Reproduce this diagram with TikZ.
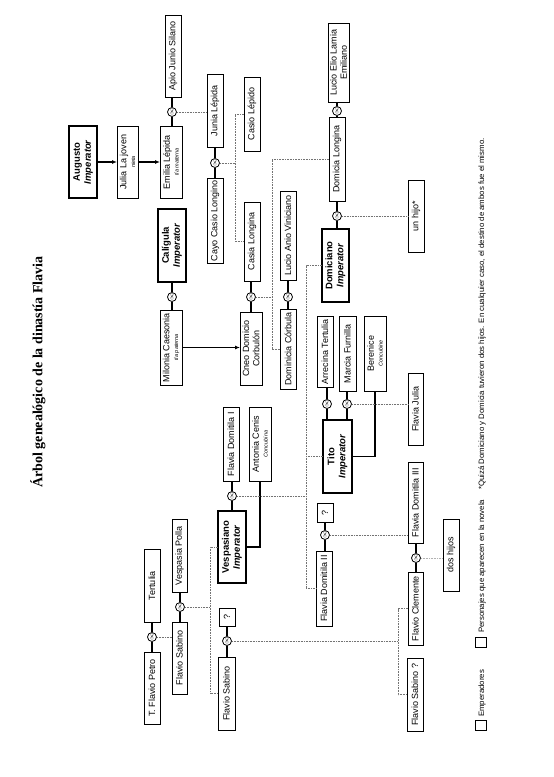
\documentclass[tikz,border=0pt]{standalone}
\usepackage{fontspec}
\setmainfont{Liberation Sans}
\newfontfamily\titlefont{Liberation Serif}
\usetikzlibrary{arrows.meta}
\newcommand\subtxt[1]{\\[-1.5pt]{\fontsize{5.5}{6}\selectfont\itshape\mdseries #1}}
\tikzset{
 box/.style={draw, rotate=90, inner sep=0.5pt, outer sep=0pt, align=center, font=\fontsize{9}{10.3}\selectfont, line width=1pt},
 emp/.style={box, line width=1.8pt, font=\fontsize{9.5}{11}\selectfont\bfseries},
 mar/.style={circle, draw, fill=white, inner sep=0pt, minimum size=9pt, line width=0.8pt, rotate=90, font=\fontsize{6}{6}\selectfont},
 rel/.style={line width=1.1pt},
 dotl/.style={black!55, line width=0.8pt, dash pattern=on 0.8pt off 0.8pt},
 arr/.style={line width=1.1pt, -{Latex[length=5pt,width=4pt]}},
 small/.style={rotate=90, inner sep=0pt, font=\fontsize{7.8}{9}\selectfont},
 legbox/.style={draw, line width=1pt, minimum width=11, minimum height=10, inner sep=0pt},
}
\begin{document}
\begin{tikzpicture}[x=1pt,y=-1pt]
\fill[white] (0,0) rectangle (554,777);
\useasboundingbox (0,0) rectangle (554,777);

% title
\node[rotate=90, font=\titlefont\bfseries\fontsize{14}{16}\selectfont] (title) at (38,372) {Árbol genealógico de la dinastía Flavia};

% boxes
\node[emp, minimum width=72, minimum height=28] (augusto) at (83,162) {Augusto\\\textit{Imperator}};
\node[box, minimum width=72, minimum height=21] (julia) at (127.5,162) {Julia La joven\subtxt{nieta}};
\node[box, minimum width=72, minimum height=22] (emilia) at (171,162) {Emilia Lépida\subtxt{tía materna}};
\node[box, minimum width=82, minimum height=16] (apio) at (173,56) {Apio Junio Silano};
\node[box, minimum width=73, minimum height=16] (junia) at (215,110.5) {Junia Lépida};
\node[box, minimum width=74, minimum height=16] (casiolep) at (252,114) {Casio Lépido};
\node[box, minimum width=85, minimum height=16] (cayo) at (215,220.5) {Cayo Casio Longino};
\node[emp, minimum width=73, minimum height=28] (caligula) at (172,245.5) {Calígula\\\textit{Imperator}};
\node[box, minimum width=79, minimum height=16] (casia) at (252,241.5) {Casia Longina};
\node[box, minimum width=89, minimum height=16] (lucioanio) at (288,235.5) {Lucio Anio Viniciano};
\node[box, minimum width=75, minimum height=22] (milonia) at (171,347.5) {Milonia Caesonia\subtxt{tía paterna}};
\node[box, minimum width=73, minimum height=22] (cneo) at (251,348.5) {Cneo Domicio\\Corbulón};
\node[box, minimum width=80, minimum height=16] (dcorbula) at (288,349) {Dominicia Córbula};
\node[emp, minimum width=73, minimum height=27] (domiciano) at (335.5,265.5) {Domiciano\\\textit{Imperator}};
\node[box, minimum width=84, minimum height=16] (dlongina) at (337,159) {Domicia Longina};
\node[box, minimum width=79, minimum height=21] (lucioelio) at (338.5,62.5) {Lucio Elio Lamia\\Emiliano};
\node[box, minimum width=72, minimum height=16] (unhijo) at (416,216) {un hijo*};
\node[emp, minimum width=73, minimum height=29] (tito) at (337.5,456.5) {Tito\\\textit{Imperator}};
\node[box, minimum width=71, minimum height=16] (arrecina) at (325,351.5) {Arrecina Tertulia};
\node[box, minimum width=75, minimum height=17] (marcia) at (347.5,353.5) {Marcia Furnilla};
\node[box, minimum width=75, minimum height=22] (berenice) at (375,353.5) {Berenice\subtxt{Concubine}};
\node[box, minimum width=72, minimum height=15] (fjulia) at (415.5,409) {Flavia Julia};
\node[emp, minimum width=72, minimum height=28] (vespasiano) at (232,547) {Vespasiano\\\textit{Imperator}};
\node[box, minimum width=74, minimum height=16] (fdomitila1) at (231,444) {Flavia Domitila I};
\node[box, minimum width=74, minimum height=22] (antonia) at (260,444) {Antonia Cenis\subtxt{Concubina}};
\node[box, minimum width=72, minimum height=15] (fsabino0) at (179.5,658) {Flavio Sabino};
\node[box, minimum width=73, minimum height=15] (vpolla) at (179.5,555.5) {Vespasia Polla};
\node[box, minimum width=73, minimum height=16] (tertulia) at (152,585.5) {Tertulia};
\node[box, minimum width=72, minimum height=16] (petro) at (152,688) {T. Flavio Petro};
\node[box, minimum width=18, minimum height=16] (q1) at (227,617) {?};
\node[box, minimum width=73, minimum height=17] (fsabino2) at (226.5,693.5) {Flavio Sabino};
\node[box, minimum width=75, minimum height=16] (fdomitila2) at (324,588.5) {Flavia Domitila II};
\node[box, minimum width=19, minimum height=16] (q2) at (325,512.5) {?};
\node[box, minimum width=81, minimum height=15] (fdomitila3) at (415.5,502.5) {Flavia Domitila III};
\node[box, minimum width=73, minimum height=15] (fclemente) at (415.5,608.5) {Flavio Clemente};
\node[box, minimum width=72, minimum height=16] (doshijos) at (451,555) {dos hijos};
\node[box, minimum width=73, minimum height=16] (fsabinoq) at (415,694.5) {Flavio Sabino ?};

% marriage rings
\node[mar] (ce) at (172,112) {$\infty$};
\node[mar] (cj) at (215,163) {$\infty$};
\node[mar] (ccal) at (172,297) {$\infty$};
\node[mar] (cc) at (251,297) {$\infty$};
\node[mar] (cl) at (288,297) {$\infty$};
\node[mar] (cdl) at (337,111) {$\infty$};
\node[mar] (cd) at (337,216) {$\infty$};
\node[mar] (ca) at (327,404) {$\infty$};
\node[mar] (cm) at (347,404) {$\infty$};
\node[mar] (cv) at (232,496) {$\infty$};
\node[mar] (ct) at (152,637) {$\infty$};
\node[mar] (cp) at (180,607) {$\infty$};
\node[mar] (cs2) at (227,641) {$\infty$};
\node[mar] (cf2) at (325,535) {$\infty$};
\node[mar] (cf3) at (416,558) {$\infty$};

% marriage lines
\draw[rel] (ce |- apio.west) -- (ce) -- (ce |- emilia.east);
\draw[rel] (cj |- junia.west) -- (cj) -- (cj |- cayo.east);
\draw[rel] (ccal |- caligula.west) -- (ccal) -- (ccal |- milonia.east);
\draw[rel] (cc |- casia.west) -- (cc) -- (cc |- cneo.east);
\draw[rel] (cl |- lucioanio.west) -- (cl) -- (cl |- dcorbula.east);
\draw[rel] (cdl |- lucioelio.west) -- (cdl) -- (cdl |- dlongina.east);
\draw[rel] (cd |- dlongina.west) -- (cd) -- (cd |- domiciano.east);
\draw[rel] (ca |- arrecina.west) -- (ca) -- (ca |- tito.east);
\draw[rel] (cm |- marcia.west) -- (cm) -- (cm |- tito.east);
\draw[rel] (cv |- fdomitila1.west) -- (cv) -- (cv |- vespasiano.east);
\draw[rel] (ct |- tertulia.west) -- (ct) -- (ct |- petro.east);
\draw[rel] (cp |- vpolla.west) -- (cp) -- (cp |- fsabino0.east);
\draw[rel] (cs2 |- q1.west) -- (cs2) -- (cs2 |- fsabino2.east);
\draw[rel] (cf2 |- q2.west) -- (cf2) -- (cf2 |- fdomitila2.east);
\draw[rel] (cf3 |- fdomitila3.west) -- (cf3) -- (cf3 |- fclemente.east);

% concubines
\draw[rel] (vespasiano.south) -| (antonia.west);
\draw[rel] (tito.south) -| (berenice.west);

% arrows
\draw[arr] (augusto.south) -- (julia.north);
\draw[arr] (julia.south) -- (emilia.north);
\draw[arr] (milonia.south) -- (milonia.south -| cneo.north);

% descent (dotted)
\coordinate (bj) at (235,163);
\coordinate (bc) at (272,297);
\coordinate (bv) at (306,496);
\coordinate (bs) at (398,641);
\coordinate (bp) at (210,607);
\draw[dotl] (ce) -- (ce -| junia.north);
\draw[dotl] (cj) -- (bj);
\draw[dotl] (casiolep.north) -| (bj) |- (casia.north);
\draw[dotl] (cc) -- (bc);
\draw[dotl] (dlongina.north) -| (bc) |- (dcorbula.north);
\draw[dotl] (cd) -- (cd -| unhijo.north);
\draw[dotl] (cv) -- (bv);
\draw[dotl] (domiciano.north) -| (bv) |- (fdomitila2.north);
\draw[dotl] (tito.north) -- (tito.north -| bv);
\draw[dotl] (cm) -- (cm -| fjulia.north);
\draw[dotl] (cf2) -- (cf2 -| fdomitila3.north);
\draw[dotl, black!30] (cf3) -- (cf3 -| doshijos.north);
\draw[dotl] (cs2) -- (bs);
\draw[dotl] (fclemente.north) -| (bs) |- (fsabinoq.north);
\draw[dotl] (ct) -- (ct -| fsabino0.north);
\draw[dotl] (cp) -- (bp);
\draw[dotl] (vespasiano.north) -| (bp) |- (fsabino2.north);

% legend and note
\node[legbox] (legemp) at (481,725) {};
\node[legbox] (legnov) at (481,642) {};
\node[small, anchor=west] (emptxt) at (482,717) {Emperadores};
\node[small, anchor=west] (novtxt) at (482,633) {Personajes que aparecen en la novela};
\node[small, anchor=west] (note) at (482,490) {*Quizá Domiciano y Domicia tuvieron dos hijos. En cualquier caso, el destino de ambos fue el mismo.};
\end{tikzpicture}
\end{document}
